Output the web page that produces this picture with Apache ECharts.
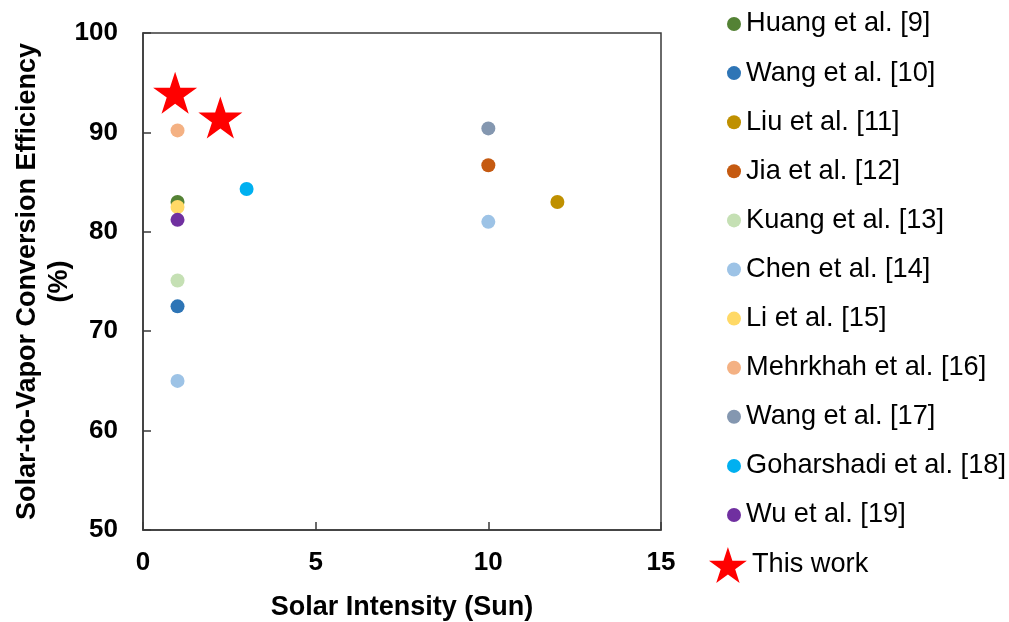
<!DOCTYPE html>
<html>
<head>
<meta charset="utf-8">
<title>Solar-to-Vapor Conversion Efficiency vs Solar Intensity</title>
<script src="https://cdn.jsdelivr.net/npm/echarts@6/dist/echarts.min.js"></script>
<style>
  html, body { margin: 0; padding: 0; background: #fff; }
  #chart { width: 1009px; height: 622px; }
</style>
</head>
<body>
<div id="chart"></div>
<script>
// Reported efficiencies: [solar intensity (sun), efficiency (%)]
const huang      = [[1, 83.0]];
const wang10     = [[1, 72.5]];
const liu        = [[12, 83.0]];
const jia        = [[10, 86.7]];
const kuang      = [[1, 75.1]];
const chen       = [[1, 65.0], [10, 81.0]];
const li         = [[1, 82.5]];
const mehrkhah   = [[1, 90.2]];
const wang17     = [[10, 90.4]];
const goharshadi = [[3, 84.3]];
const wu         = [[1, 81.2]];
const thisWork   = [[0.93, 94.0], [2.24, 91.5]];

const seriesNames = [
  'Huang et al. [9]', 'Wang et al. [10]', 'Liu et al. [11]', 'Jia et al. [12]',
  'Kuang et al. [13]', 'Chen et al. [14]', 'Li et al. [15]', 'Mehrkhah et al. [16]',
  'Wang et al. [17]', 'Goharshadi et al. [18]', 'Wu et al. [19]'
];
const seriesData = [huang, wang10, liu, jia, kuang, chen, li, mehrkhah, wang17, goharshadi, wu];
const seriesColors = [
  '#548235', '#2E75B6', '#BF9000', '#C55A11', '#C5E0B4', '#9DC3E6',
  '#FFD966', '#F4B183', '#8497B0', '#00B0F0', '#7030A0'
];
const starName = 'This work';

const xTicks = { min: 0, max: 15, interval: 5 };
const yTicks = { min: 50, max: 100, interval: 10 };

const FONT = "'Liberation Sans', Arial, Helvetica, sans-serif";
const STAR = 'path://M50,0 L61.23,34.55 L97.55,34.55 L68.17,55.9 L79.39,90.45 L50,69.1 L20.61,90.45 L31.83,55.9 L2.45,34.55 L38.77,34.55 Z';

const series = seriesNames.map((name, i) => ({
  name: name,
  type: 'scatter',
  data: seriesData[i],
  symbol: 'circle',
  symbolSize: 14,
  itemStyle: { color: seriesColors[i], opacity: 1 },
  emphasis: { disabled: true },
  z: 2
}));
series.push({
  name: starName,
  type: 'scatter',
  data: thisWork,
  symbol: STAR,
  symbolSize: [44, 42],
  itemStyle: { color: '#FF0000', opacity: 1 },
  emphasis: { disabled: true },
  z: 3
});

const chart = echarts.init(document.getElementById('chart'), null, { renderer: 'canvas' });
chart.setOption({
  animation: false,
  backgroundColor: '#ffffff',
  textStyle: { fontFamily: FONT },
  grid: {
    left: 143, right: 348, top: 33, bottom: 92,
    show: true, borderColor: '#3a3a3a', borderWidth: 1.5,
    containLabel: false,
    outerBoundsMode: 'none'
  },
  xAxis: {
    type: 'value',
    min: xTicks.min, max: xTicks.max, interval: xTicks.interval,
    name: 'Solar Intensity (Sun)',
    nameLocation: 'middle',
    nameGap: 64,
    nameMoveOverlap: false,
    nameTextStyle: { fontFamily: FONT, fontSize: 27, fontWeight: 'bold', color: '#000' },
    axisLine: { show: true, lineStyle: { color: '#3a3a3a', width: 1.5 } },
    axisTick: { show: true, inside: true, length: 8, lineStyle: { color: '#3a3a3a', width: 1.5 } },
    axisLabel: { margin: 20, fontFamily: FONT, fontSize: 26, fontWeight: 'bold', color: '#000' },
    splitLine: { show: false }
  },
  yAxis: {
    type: 'value',
    min: yTicks.min, max: yTicks.max, interval: yTicks.interval,
    name: 'Solar-to-Vapor Conversion Efficiency\n(%)',
    nameLocation: 'middle',
    nameRotate: 90,
    nameGap: 67,
    nameMoveOverlap: false,
    nameTextStyle: { fontFamily: FONT, fontSize: 27, fontWeight: 'bold', color: '#000', lineHeight: 32 },
    axisLine: { show: true, lineStyle: { color: '#3a3a3a', width: 1.5 } },
    axisTick: { show: true, inside: true, length: 8, lineStyle: { color: '#3a3a3a', width: 1.5 } },
    axisLabel: { margin: 25, fontFamily: FONT, fontSize: 26, fontWeight: 'bold', color: '#000' },
    splitLine: { show: false }
  },
  legend: [
    {
      data: seriesNames.map(n => ({ name: n, icon: 'circle' })),
      orient: 'vertical',
      left: 722,
      top: 5,
      itemWidth: 14,
      itemHeight: 14,
      itemGap: 21.1,
      selectedMode: false,
      textStyle: { fontFamily: FONT, fontSize: 27.2, lineHeight: 28, color: '#000' }
    },
    {
      data: [{ name: starName, icon: STAR }],
      orient: 'vertical',
      left: 704,
      top: 542,
      itemWidth: 38,
      itemHeight: 36,
      selectedMode: false,
      textStyle: { fontFamily: FONT, fontSize: 27.2, lineHeight: 36, color: '#000' }
    }
  ],
  series: series
});
</script>
</body>
</html>
